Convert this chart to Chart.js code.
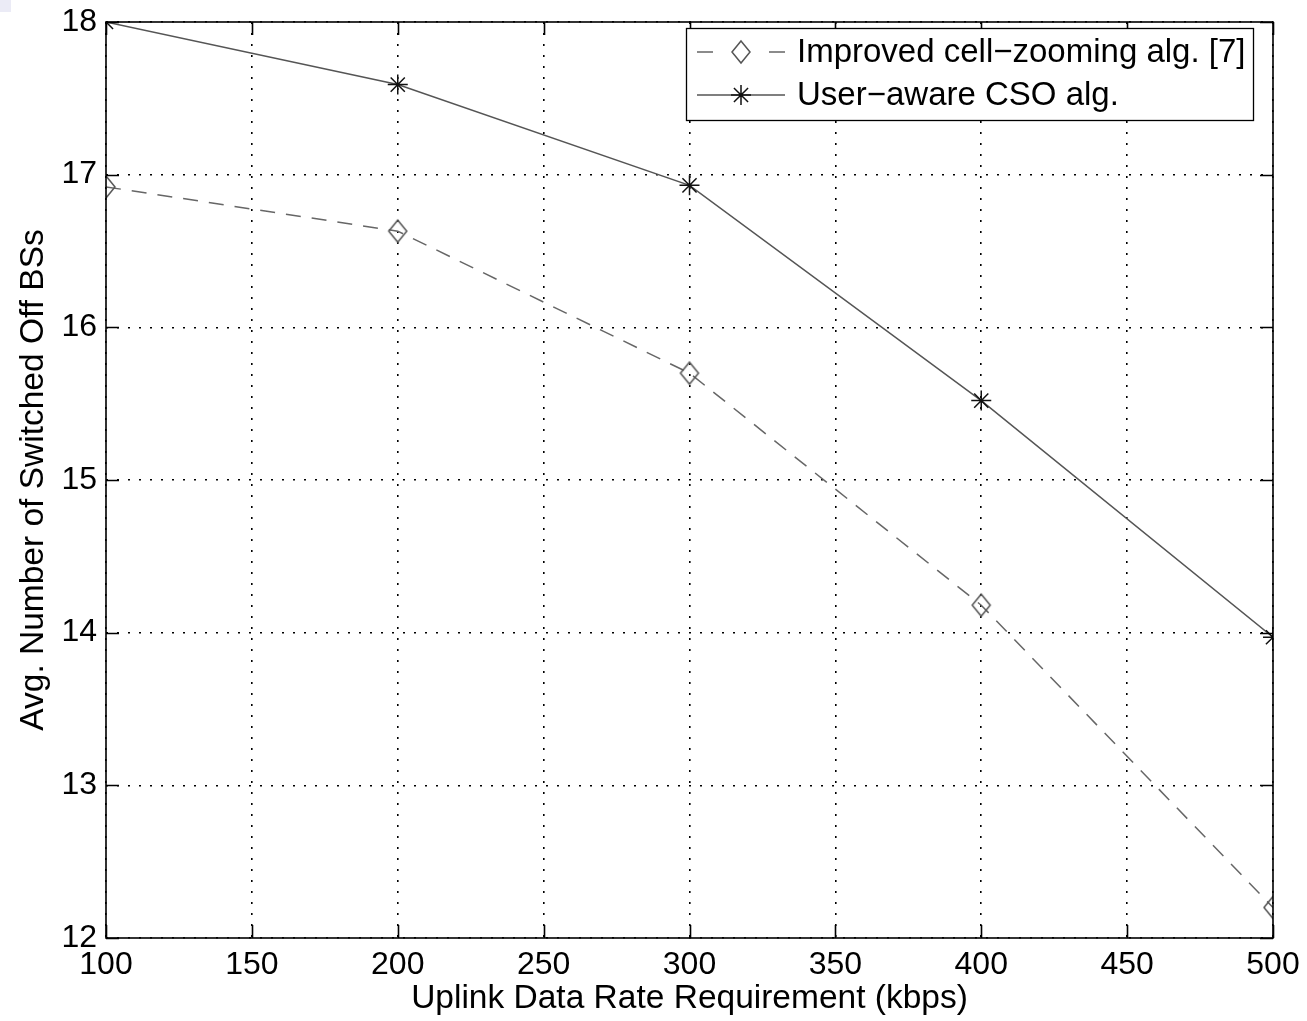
<!DOCTYPE html>
<html><head><meta charset="utf-8">
<script src="https://cdn.jsdelivr.net/npm/chart.js@4"></script>
<style>html,body{margin:0;padding:0;background:#fff}canvas{display:block}
#corner{position:absolute;left:0;top:0;width:11px;height:12px;background:#ebebf6}</style>
</head><body>
<canvas id="c" width="1307" height="1021"></canvas>
<div id="corner"></div>
<script>
const rates = [100, 200, 300, 400, 500];
const improvedValues = [16.92, 16.63, 15.70, 14.18, 12.20];
const csoValues = [18.00, 17.59, 16.93, 15.52, 13.97];
const seriesNames = ['Improved cell\u2212zooming alg. [7]', 'User\u2212aware CSO alg.'];
const xTickValues = [100, 150, 200, 250, 300, 350, 400, 450, 500];
const yTickValues = [12, 13, 14, 15, 16, 17, 18];
const xTitle = 'Uplink Data Rate Requirement (kbps)';
const yTitle = 'Avg. Number of Switched Off BSs';

const FONT = "'Liberation Sans', Arial, Helvetica, sans-serif";

function diamondCanvas() {
  const c = document.createElement('canvas');
  c.width = 22; c.height = 26;
  const g = c.getContext('2d');
  g.strokeStyle = '#555'; g.lineWidth = 1.5;
  g.beginPath();
  g.moveTo(11, 2); g.lineTo(20, 13); g.lineTo(11, 24); g.lineTo(2, 13); g.closePath();
  g.stroke();
  return c;
}
const diamond = diamondCanvas();

const frame = {
  id: 'frame',
  afterDatasetsDraw(chart) {
    const {ctx, chartArea: a, scales: {x, y}} = chart;
    ctx.save();
    ctx.strokeStyle = '#000';
    ctx.lineWidth = 1.6;
    ctx.setLineDash([]);
    ctx.strokeRect(a.left, a.top, a.right - a.left, a.bottom - a.top);
    const L = 13;
    ctx.beginPath();
    x.ticks.forEach(t => {
      const px = Math.round(x.getPixelForValue(t.value)) + 0.5;
      ctx.moveTo(px, a.bottom); ctx.lineTo(px, a.bottom - L);
      ctx.moveTo(px, a.top); ctx.lineTo(px, a.top + L);
    });
    y.ticks.forEach(t => {
      const py = Math.round(y.getPixelForValue(t.value)) + 0.5;
      ctx.moveTo(a.left, py); ctx.lineTo(a.left + L, py);
      ctx.moveTo(a.right, py); ctx.lineTo(a.right - L, py);
    });
    ctx.stroke();
    ctx.restore();
  },
  afterDraw(chart) {
    const {ctx} = chart;
    const bx = 686, by = 28, bw = 567, bh = 92;
    ctx.save();
    ctx.fillStyle = '#fff';
    ctx.fillRect(bx, by, bw, bh);
    ctx.strokeStyle = '#000'; ctx.lineWidth = 1.3;
    ctx.strokeRect(bx + 0.5, by + 0.5, bw, bh);
    const rows = [52, 95];
    chart.data.datasets.forEach((ds, i) => {
      const ry = rows[i];
      ctx.strokeStyle = ds.borderColor;
      ctx.lineWidth = ds.borderWidth;
      ctx.setLineDash(ds.borderDash && ds.borderDash.length ? [16, 56] : []);
      ctx.beginPath(); ctx.moveTo(697, ry); ctx.lineTo(785, ry); ctx.stroke();
      ctx.setLineDash([]);
      if (ds.pointStyle === 'star') {
        ctx.strokeStyle = ds.pointBorderColor; ctx.lineWidth = ds.pointBorderWidth;
        const r = ds.pointRadius;
        ctx.beginPath();
        ctx.moveTo(741, ry - r); ctx.lineTo(741, ry + r);
        ctx.moveTo(741 - r, ry); ctx.lineTo(741 + r, ry);
        const d = r * Math.SQRT1_2;
        ctx.moveTo(741 - d, ry - d); ctx.lineTo(741 + d, ry + d);
        ctx.moveTo(741 - d, ry + d); ctx.lineTo(741 + d, ry - d);
        ctx.stroke();
      } else {
        ctx.drawImage(ds.pointStyle, 741 - ds.pointStyle.width / 2, ry - ds.pointStyle.height / 2);
      }
      ctx.fillStyle = '#000';
      ctx.font = '33px ' + FONT;
      ctx.textBaseline = 'middle';
      ctx.textAlign = 'left';
      ctx.fillText(ds.label, 797, ry + 1);
    });
    ctx.restore();
  }
};

new Chart(document.getElementById('c'), {
  type: 'line',
  data: {
    datasets: [
      {
        label: seriesNames[0],
        data: rates.map((r, i) => ({x: r, y: improvedValues[i]})),
        borderColor: '#666',
        borderWidth: 1.5,
        borderDash: [15, 11],
        pointStyle: diamond,
        pointRadius: 10,
        pointBorderColor: '#555',
        pointBorderWidth: 1.5,
        fill: false,
        tension: 0
      },
      {
        label: seriesNames[1],
        data: rates.map((r, i) => ({x: r, y: csoValues[i]})),
        borderColor: '#555',
        borderWidth: 1.5,
        borderDash: [],
        pointStyle: 'star',
        pointRadius: 10,
        pointBorderColor: '#111',
        pointBorderWidth: 1.5,
        fill: false,
        tension: 0
      }
    ]
  },
  options: {
    responsive: false,
    animation: false,
    devicePixelRatio: 1,
    layout: {padding: {top: 22, right: 34, left: 0, bottom: 0}},
    plugins: {legend: {display: false}, tooltip: {enabled: false}},
    scales: {
      x: {
        type: 'linear',
        min: 100, max: 500,
        afterBuildTicks: s => { s.ticks = xTickValues.map(v => ({value: v})); },
        afterFit: s => { s.height = 83; s.paddingLeft = 0; s.paddingRight = 0; },
        grid: {color: '#000', lineWidth: 1.6, drawTicks: false},
        border: {display: false, dash: [2, 9]},
        ticks: {color: '#000', font: {family: FONT, size: 32}, padding: 8, maxRotation: 0, autoSkip: false},
        title: {display: true, text: xTitle, color: '#000', font: {family: FONT, size: 33.5}, padding: {top: 0, bottom: 2}}
      },
      y: {
        type: 'linear',
        min: 12, max: 18,
        afterBuildTicks: s => { s.ticks = yTickValues.map(v => ({value: v})); },
        afterFit: s => { s.width = 106; s.paddingTop = 0; s.paddingBottom = 0; },
        grid: {color: '#000', lineWidth: 1.6, drawTicks: false},
        border: {display: false, dash: [2, 9]},
        ticks: {color: '#000', font: {family: FONT, size: 32}, padding: 9},
        title: {display: true, text: yTitle, color: '#000', font: {family: FONT, size: 33.5}, padding: {top: 14, bottom: 0}}
      }
    }
  },
  plugins: [frame]
});
</script>
</body></html>
